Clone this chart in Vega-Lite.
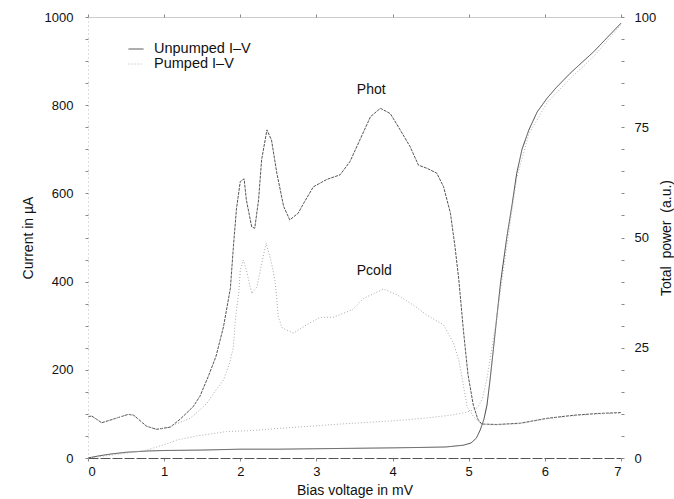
{
  "$schema": "https://vega.github.io/schema/vega-lite/v6.json",
  "autosize": {"type": "none"},
  "padding": {"left": 88, "top": 17, "right": 53, "bottom": 41},
  "width": 533,
  "height": 441,
  "background": "white",
  "config": {
    "font": "Liberation Sans",
    "view": {"stroke": null},
    "axis": {"labelFont": "Liberation Sans", "titleFont": "Liberation Sans", "labelFontSize": 13, "titleFontSize": 14, "titleFontWeight": "normal", "labelColor": "#111", "titleColor": "#111", "grid": false, "tickColor": "#888", "tickSize": 3, "tickWidth": 1}
  },
  "datasets": {
    "iv": [
      {"V": 0, "I": 0, "s": "Unpumped I–V"}, {"V": 0.15, "I": 5, "s": "Unpumped I–V"}, {"V": 0.3, "I": 9, "s": "Unpumped I–V"}, {"V": 0.5, "I": 13, "s": "Unpumped I–V"}, {"V": 0.8, "I": 16, "s": "Unpumped I–V"}, {"V": 1.0, "I": 17, "s": "Unpumped I–V"}, {"V": 1.5, "I": 18, "s": "Unpumped I–V"}, {"V": 2.0, "I": 20, "s": "Unpumped I–V"}, {"V": 2.5, "I": 20, "s": "Unpumped I–V"}, {"V": 3.0, "I": 21, "s": "Unpumped I–V"}, {"V": 3.5, "I": 22, "s": "Unpumped I–V"}, {"V": 4.0, "I": 23, "s": "Unpumped I–V"}, {"V": 4.4, "I": 24, "s": "Unpumped I–V"}, {"V": 4.7, "I": 25, "s": "Unpumped I–V"}, {"V": 4.93, "I": 29, "s": "Unpumped I–V"}, {"V": 5.03, "I": 34, "s": "Unpumped I–V"}, {"V": 5.1, "I": 45, "s": "Unpumped I–V"}, {"V": 5.15, "I": 63, "s": "Unpumped I–V"}, {"V": 5.2, "I": 88, "s": "Unpumped I–V"}, {"V": 5.24, "I": 120, "s": "Unpumped I–V"}, {"V": 5.28, "I": 177, "s": "Unpumped I–V"}, {"V": 5.32, "I": 240, "s": "Unpumped I–V"}, {"V": 5.36, "I": 305, "s": "Unpumped I–V"}, {"V": 5.42, "I": 400, "s": "Unpumped I–V"}, {"V": 5.5, "I": 500, "s": "Unpumped I–V"}, {"V": 5.57, "I": 575, "s": "Unpumped I–V"}, {"V": 5.63, "I": 645, "s": "Unpumped I–V"}, {"V": 5.7, "I": 700, "s": "Unpumped I–V"}, {"V": 5.79, "I": 744, "s": "Unpumped I–V"}, {"V": 5.9, "I": 785, "s": "Unpumped I–V"}, {"V": 6.03, "I": 816, "s": "Unpumped I–V"}, {"V": 6.15, "I": 840, "s": "Unpumped I–V"}, {"V": 6.33, "I": 872, "s": "Unpumped I–V"}, {"V": 6.5, "I": 899, "s": "Unpumped I–V"}, {"V": 6.64, "I": 921, "s": "Unpumped I–V"}, {"V": 6.8, "I": 950, "s": "Unpumped I–V"}, {"V": 7.0, "I": 986, "s": "Unpumped I–V"},
      {"V": 0, "I": 0, "s": "Pumped I–V"}, {"V": 0.15, "I": 3, "s": "Pumped I–V"}, {"V": 0.33, "I": 7, "s": "Pumped I–V"}, {"V": 0.55, "I": 12, "s": "Pumped I–V"}, {"V": 0.77, "I": 18, "s": "Pumped I–V"}, {"V": 1.0, "I": 30, "s": "Pumped I–V"}, {"V": 1.17, "I": 41, "s": "Pumped I–V"}, {"V": 1.43, "I": 50, "s": "Pumped I–V"}, {"V": 1.82, "I": 60, "s": "Pumped I–V"}, {"V": 2.13, "I": 62, "s": "Pumped I–V"}, {"V": 2.5, "I": 67, "s": "Pumped I–V"}, {"V": 2.74, "I": 70, "s": "Pumped I–V"}, {"V": 3.0, "I": 73, "s": "Pumped I–V"}, {"V": 3.31, "I": 77, "s": "Pumped I–V"}, {"V": 3.7, "I": 81, "s": "Pumped I–V"}, {"V": 4.06, "I": 85, "s": "Pumped I–V"}, {"V": 4.4, "I": 90, "s": "Pumped I–V"}, {"V": 4.76, "I": 97, "s": "Pumped I–V"}, {"V": 4.95, "I": 103, "s": "Pumped I–V"}, {"V": 5.05, "I": 108, "s": "Pumped I–V"}, {"V": 5.12, "I": 115, "s": "Pumped I–V"}, {"V": 5.18, "I": 135, "s": "Pumped I–V"}, {"V": 5.24, "I": 180, "s": "Pumped I–V"}, {"V": 5.3, "I": 245, "s": "Pumped I–V"}, {"V": 5.36, "I": 310, "s": "Pumped I–V"}, {"V": 5.45, "I": 420, "s": "Pumped I–V"}, {"V": 5.55, "I": 540, "s": "Pumped I–V"}, {"V": 5.63, "I": 635, "s": "Pumped I–V"}, {"V": 5.79, "I": 735, "s": "Pumped I–V"}, {"V": 6.03, "I": 806, "s": "Pumped I–V"}, {"V": 6.33, "I": 860, "s": "Pumped I–V"}, {"V": 6.64, "I": 910, "s": "Pumped I–V"}, {"V": 7.0, "I": 983, "s": "Pumped I–V"}
    ],
    "pw": [
      {"V": 0, "P": 9.4, "s": "Phot"}, {"V": 0.05, "P": 9.5, "s": "Phot"}, {"V": 0.18, "P": 8.0, "s": "Phot"}, {"V": 0.33, "P": 8.8, "s": "Phot"}, {"V": 0.53, "P": 9.9, "s": "Phot"}, {"V": 0.6, "P": 9.7, "s": "Phot"}, {"V": 0.77, "P": 7.2, "s": "Phot"}, {"V": 0.9, "P": 6.5, "s": "Phot"}, {"V": 1.08, "P": 7.0, "s": "Phot"}, {"V": 1.21, "P": 8.8, "s": "Phot"}, {"V": 1.38, "P": 11.6, "s": "Phot"}, {"V": 1.47, "P": 14.0, "s": "Phot"}, {"V": 1.58, "P": 18.5, "s": "Phot"}, {"V": 1.68, "P": 23.0, "s": "Phot"}, {"V": 1.78, "P": 29.8, "s": "Phot"}, {"V": 1.87, "P": 38.5, "s": "Phot"}, {"V": 1.91, "P": 48.0, "s": "Phot"}, {"V": 1.95, "P": 56.5, "s": "Phot"}, {"V": 2.0, "P": 62.7, "s": "Phot"}, {"V": 2.05, "P": 63.3, "s": "Phot"}, {"V": 2.08, "P": 58.5, "s": "Phot"}, {"V": 2.15, "P": 52.4, "s": "Phot"}, {"V": 2.19, "P": 52.1, "s": "Phot"}, {"V": 2.24, "P": 58.5, "s": "Phot"}, {"V": 2.28, "P": 67.6, "s": "Phot"}, {"V": 2.35, "P": 74.4, "s": "Phot"}, {"V": 2.41, "P": 72.1, "s": "Phot"}, {"V": 2.48, "P": 64.6, "s": "Phot"}, {"V": 2.57, "P": 57.0, "s": "Phot"}, {"V": 2.65, "P": 54.0, "s": "Phot"}, {"V": 2.76, "P": 55.5, "s": "Phot"}, {"V": 2.83, "P": 57.7, "s": "Phot"}, {"V": 2.96, "P": 61.5, "s": "Phot"}, {"V": 3.14, "P": 63.2, "s": "Phot"}, {"V": 3.31, "P": 64.2, "s": "Phot"}, {"V": 3.44, "P": 67.2, "s": "Phot"}, {"V": 3.57, "P": 72.1, "s": "Phot"}, {"V": 3.71, "P": 77.4, "s": "Phot"}, {"V": 3.84, "P": 79.3, "s": "Phot"}, {"V": 3.97, "P": 78.1, "s": "Phot"}, {"V": 4.1, "P": 74.4, "s": "Phot"}, {"V": 4.23, "P": 70.6, "s": "Phot"}, {"V": 4.34, "P": 66.4, "s": "Phot"}, {"V": 4.45, "P": 65.7, "s": "Phot"}, {"V": 4.58, "P": 64.6, "s": "Phot"}, {"V": 4.67, "P": 61.5, "s": "Phot"}, {"V": 4.76, "P": 55.5, "s": "Phot"}, {"V": 4.82, "P": 47.9, "s": "Phot"}, {"V": 4.87, "P": 40.4, "s": "Phot"}, {"V": 4.93, "P": 29.0, "s": "Phot"}, {"V": 4.99, "P": 19.0, "s": "Phot"}, {"V": 5.06, "P": 12.0, "s": "Phot"}, {"V": 5.12, "P": 8.8, "s": "Phot"}, {"V": 5.17, "P": 7.7, "s": "Phot"}, {"V": 5.37, "P": 7.6, "s": "Phot"}, {"V": 5.68, "P": 7.9, "s": "Phot"}, {"V": 6.03, "P": 9.0, "s": "Phot"}, {"V": 6.38, "P": 9.7, "s": "Phot"}, {"V": 6.7, "P": 10.1, "s": "Phot"}, {"V": 7.0, "P": 10.3, "s": "Phot"},
      {"V": 0, "P": 9.4, "s": "Pcold"}, {"V": 0.05, "P": 9.5, "s": "Pcold"}, {"V": 0.18, "P": 8.0, "s": "Pcold"}, {"V": 0.33, "P": 8.8, "s": "Pcold"}, {"V": 0.53, "P": 9.9, "s": "Pcold"}, {"V": 0.6, "P": 9.7, "s": "Pcold"}, {"V": 0.77, "P": 7.2, "s": "Pcold"}, {"V": 0.9, "P": 6.5, "s": "Pcold"}, {"V": 1.03, "P": 6.8, "s": "Pcold"}, {"V": 1.34, "P": 9.0, "s": "Pcold"}, {"V": 1.47, "P": 10.9, "s": "Pcold"}, {"V": 1.56, "P": 12.4, "s": "Pcold"}, {"V": 1.65, "P": 14.7, "s": "Pcold"}, {"V": 1.78, "P": 17.7, "s": "Pcold"}, {"V": 1.86, "P": 21.5, "s": "Pcold"}, {"V": 1.91, "P": 25.2, "s": "Pcold"}, {"V": 1.93, "P": 30.2, "s": "Pcold"}, {"V": 1.95, "P": 33.6, "s": "Pcold"}, {"V": 1.98, "P": 37.3, "s": "Pcold"}, {"V": 2.0, "P": 42.6, "s": "Pcold"}, {"V": 2.04, "P": 44.9, "s": "Pcold"}, {"V": 2.08, "P": 42.6, "s": "Pcold"}, {"V": 2.15, "P": 37.3, "s": "Pcold"}, {"V": 2.22, "P": 38.8, "s": "Pcold"}, {"V": 2.28, "P": 44.1, "s": "Pcold"}, {"V": 2.34, "P": 48.7, "s": "Pcold"}, {"V": 2.39, "P": 45.6, "s": "Pcold"}, {"V": 2.43, "P": 42.6, "s": "Pcold"}, {"V": 2.46, "P": 39.6, "s": "Pcold"}, {"V": 2.5, "P": 32.0, "s": "Pcold"}, {"V": 2.55, "P": 29.5, "s": "Pcold"}, {"V": 2.7, "P": 28.3, "s": "Pcold"}, {"V": 2.87, "P": 30.2, "s": "Pcold"}, {"V": 3.05, "P": 31.9, "s": "Pcold"}, {"V": 3.22, "P": 31.9, "s": "Pcold"}, {"V": 3.47, "P": 33.6, "s": "Pcold"}, {"V": 3.62, "P": 36.2, "s": "Pcold"}, {"V": 3.88, "P": 38.3, "s": "Pcold"}, {"V": 4.06, "P": 37.0, "s": "Pcold"}, {"V": 4.27, "P": 34.7, "s": "Pcold"}, {"V": 4.45, "P": 32.4, "s": "Pcold"}, {"V": 4.67, "P": 30.2, "s": "Pcold"}, {"V": 4.8, "P": 26.0, "s": "Pcold"}, {"V": 4.87, "P": 22.2, "s": "Pcold"}, {"V": 4.98, "P": 11.6, "s": "Pcold"}, {"V": 5.06, "P": 9.5, "s": "Pcold"}, {"V": 5.13, "P": 8.2, "s": "Pcold"}, {"V": 5.17, "P": 7.6, "s": "Pcold"}, {"V": 5.37, "P": 7.5, "s": "Pcold"}, {"V": 5.68, "P": 7.8, "s": "Pcold"}, {"V": 6.03, "P": 8.9, "s": "Pcold"}, {"V": 6.38, "P": 9.6, "s": "Pcold"}, {"V": 6.7, "P": 10.0, "s": "Pcold"}, {"V": 7.0, "P": 10.2, "s": "Pcold"}
    ],
    "lab": [
      {"V": 3.72, "P": 83.4, "t": "Phot"},
      {"V": 3.76, "P": 42.5, "t": "Pcold"}
    ]
  },
  "layer": [
    {
      "data": {"name": "iv"},
      "mark": {"type": "line", "strokeWidth": 1},
      "encoding": {
        "x": {"field": "V", "type": "quantitative", "scale": {"domain": [0, 7], "nice": false},
          "axis": {"orient": "bottom", "values": [0, 1, 2, 3, 4, 5, 6, 7], "title": "Bias voltage in mV", "labelPadding": 4, "titlePadding": 5, "domainColor": "#555", "domainDash": [10, 2], "tickSize": 3}},
        "y": {"field": "I", "type": "quantitative", "scale": {"domain": [0, 1000], "nice": false},
          "axis": {"orient": "left", "values": [0, 50, 100, 150, 200, 250, 300, 350, 400, 450, 500, 550, 600, 650, 700, 750, 800, 850, 900, 950, 1000], "labelExpr": "datum.value % 200 == 0 ? format(datum.value, 'd') : ''", "title": "Current in µA", "labelPadding": 12, "titlePadding": 9, "domainColor": "#bbb", "domainDash": [1, 3], "tickSize": 3}},
        "color": {"field": "s", "type": "nominal", "scale": {"domain": ["Unpumped I–V", "Pumped I–V"], "range": ["#444444", "#b0b0b0"]},
          "legend": {"title": null, "orient": "none", "legendX": 40, "legendY": 24, "symbolType": "stroke", "symbolSize": 225, "symbolStrokeWidth": 1, "labelFontSize": 14.5, "labelFont": "Liberation Sans", "labelColor": "#111", "labelOffset": 10, "rowPadding": 0}},
        "strokeDash": {"field": "s", "type": "nominal", "scale": {"domain": ["Unpumped I–V", "Pumped I–V"], "range": [[1, 0], [1, 2]]},
          "legend": {"title": null, "orient": "none", "legendX": 40, "legendY": 24, "symbolType": "stroke", "symbolSize": 225, "symbolStrokeWidth": 1, "labelFontSize": 14.5, "labelFont": "Liberation Sans", "labelColor": "#111", "labelOffset": 10, "rowPadding": 0}}
      }
    },
    {
      "data": {"name": "pw"},
      "mark": {"type": "line", "strokeWidth": 1},
      "encoding": {
        "x": {"field": "V", "type": "quantitative", "scale": {"domain": [0, 7], "nice": false},
          "axis": {"orient": "top", "values": [0, 1, 2, 3, 4, 5, 6, 7], "labels": false, "title": null, "domainColor": "#999", "domainDash": [1, 1], "tickSize": 3}},
        "y": {"field": "P", "type": "quantitative", "scale": {"domain": [0, 100], "nice": false},
          "axis": {"orient": "right", "values": [0, 5, 10, 15, 20, 25, 30, 35, 40, 45, 50, 55, 60, 65, 70, 75, 80, 85, 90, 95, 100], "labelExpr": "datum.value % 25 == 0 ? datum.label : ''", "title": "Total\u00a0 power\u00a0 (a.u.)", "titleAngle": 270, "labelPadding": 10, "titlePadding": 18, "domain": false, "tickSize": 3}},
        "color": {"field": "s", "type": "nominal", "scale": {"domain": ["Phot", "Pcold"], "range": ["#555555", "#a8a8a8"]}, "legend": null},
        "strokeDash": {"field": "s", "type": "nominal", "scale": {"domain": ["Phot", "Pcold"], "range": [[3, 1], [1, 2]]}, "legend": null}
      }
    },
    {
      "data": {"name": "lab"},
      "mark": {"type": "text", "fontSize": 14, "font": "Liberation Sans", "color": "#111", "align": "center", "baseline": "middle"},
      "encoding": {
        "x": {"field": "V", "type": "quantitative", "scale": {"domain": [0, 7], "nice": false}, "axis": null},
        "y": {"field": "P", "type": "quantitative", "scale": {"domain": [0, 100], "nice": false}, "axis": null},
        "text": {"field": "t", "type": "nominal"}
      }
    }
  ],
  "resolve": {
    "scale": {"y": "independent", "color": "independent", "strokeDash": "independent"},
    "axis": {"x": "independent", "y": "independent"}
  }
}
